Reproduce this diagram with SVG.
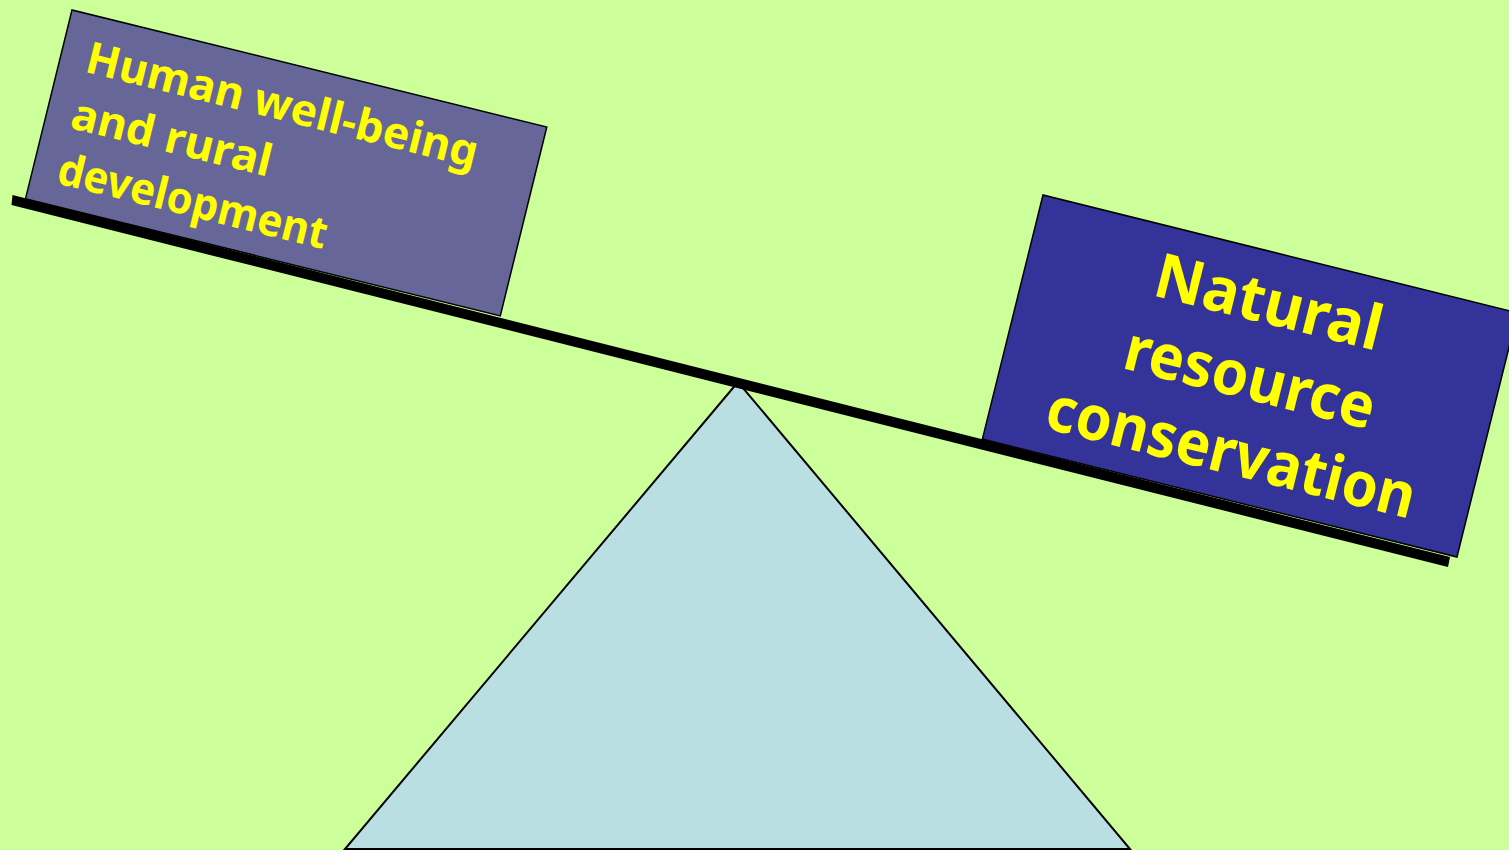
<svg xmlns="http://www.w3.org/2000/svg" width="1509" height="850" viewBox="0 0 1509 850">
<style>
.lbl{font-family:"Comic Sans MS","Noto Sans","DejaVu Sans",sans-serif;font-weight:bold;fill:#FFFF00}
.box{stroke:#000;stroke-width:1.5}
</style>
<rect x="0" y="0" width="1509" height="850" fill="#CCFF99"/>
<g id="fulcrum">
<polygon points="738,382 345,849 1130,849" fill="#B9DFE3" stroke="#000" stroke-width="2"/>
</g>
<g id="beam">
<polygon points="12.5,195 1450,557 1448,567 11.5,205" fill="#000"/>
</g>
<g id="left-box" transform="translate(72,10) rotate(13.84)">
<rect class="box" x="0" y="0" width="489" height="194.5" fill="#666699"/>
<text class="lbl" font-size="44" x="26" y="57" textLength="402" lengthAdjust="spacingAndGlyphs">Human well-being</text>
<text class="lbl" font-size="44" x="25" y="115" textLength="205" lengthAdjust="spacingAndGlyphs">and rural</text>
<text class="lbl" font-size="44" x="25" y="172" textLength="276" lengthAdjust="spacingAndGlyphs">development</text>
</g>
<g id="right-box" transform="translate(1043,195) rotate(13.95)">
<rect class="box" x="0" y="0" width="489" height="251.5" fill="#333399"/>
<text class="lbl" font-size="62" x="245" y="71" text-anchor="middle" textLength="232" lengthAdjust="spacingAndGlyphs">Natural</text>
<text class="lbl" font-size="62" x="245" y="149" text-anchor="middle" textLength="256" lengthAdjust="spacingAndGlyphs">resource</text>
<text class="lbl" font-size="62" x="245" y="226" text-anchor="middle" textLength="378" lengthAdjust="spacingAndGlyphs">conservation</text>
</g>
</svg>
